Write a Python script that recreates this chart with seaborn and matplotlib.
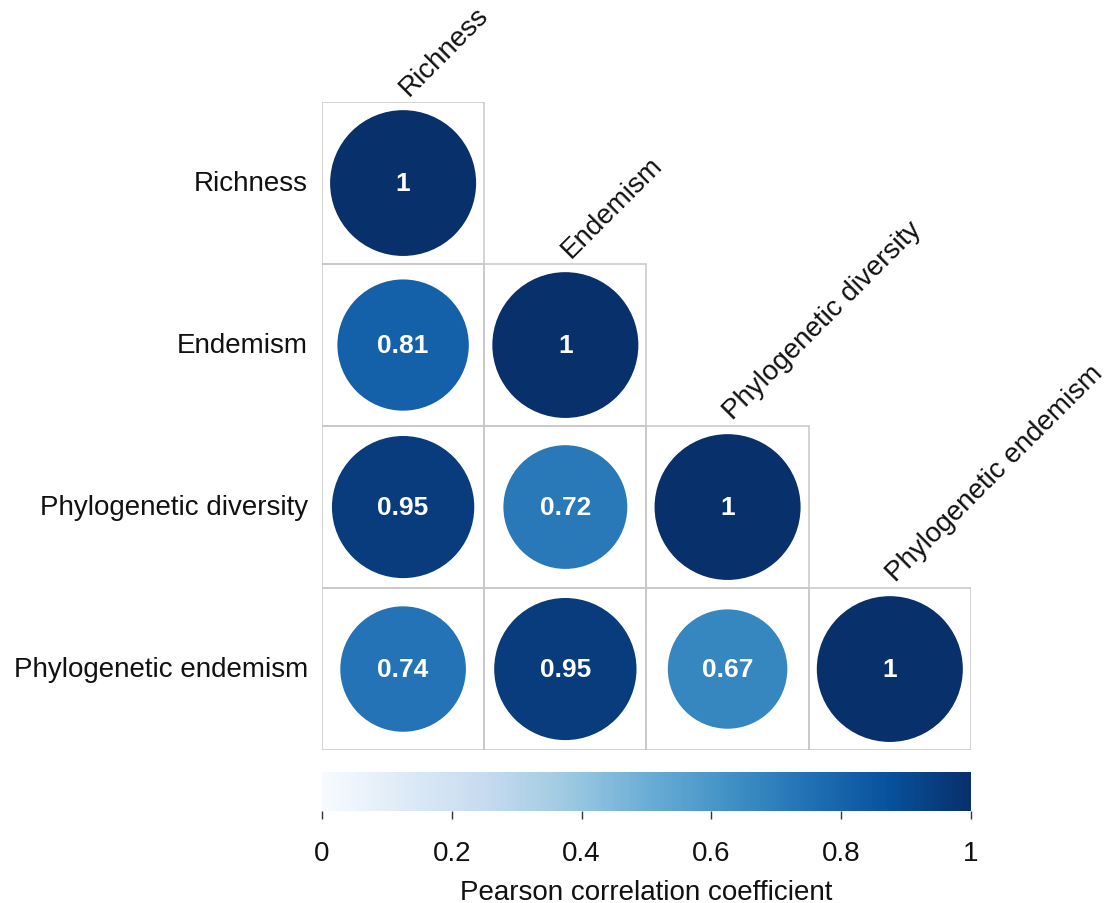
import numpy as np
import matplotlib
matplotlib.use("Agg")
import matplotlib.pyplot as plt
from matplotlib.colors import ListedColormap, Normalize
from matplotlib.cm import ScalarMappable
from matplotlib.patches import Circle, Rectangle
import seaborn as sns

# Variables and their pairwise Pearson correlations (lower triangle incl. diagonal)
variables = ["Richness", "Endemism", "Phylogenetic diversity", "Phylogenetic endemism"]
row_richness = [1.00, np.nan, np.nan, np.nan]
row_endemism = [0.81, 1.00, np.nan, np.nan]
row_pd = [0.95, 0.72, 1.00, np.nan]
row_pe = [0.74, 0.95, 0.67, 1.00]
cbar_ticks = [0, 0.2, 0.4, 0.6, 0.8, 1]
cbar_ticklabels = ["0", "0.2", "0.4", "0.6", "0.8", "1"]
cbar_title = "Pearson correlation coefficient"

corr = np.array([row_richness, row_endemism, row_pd, row_pe])
n = len(variables)
mask = np.isnan(corr)
labels = np.array([["" if np.isnan(v) else f"{v:g}" for v in row] for row in corr])

sns.set_style("white")
plt.rcParams["font.family"] = ["Liberation Sans", "DejaVu Sans"]

cmap = plt.get_cmap("Blues")
norm = Normalize(vmin=0, vmax=1)

fig = plt.figure(figsize=(11.08, 9.04), dpi=100)
ax = fig.add_axes([0.2906, 0.1692, 0.5857, 0.7168])

# Blank white heatmap carries the row labels and the value annotations
sns.heatmap(
    np.where(mask, np.nan, 0.0), mask=mask, ax=ax,
    cmap=ListedColormap(["white"]), vmin=0, vmax=1, cbar=False,
    linewidths=0,
    annot=labels, fmt="",
    annot_kws={"color": "white", "fontsize": 19, "fontweight": "bold"},
    xticklabels=False, yticklabels=variables, square=False,
)
ax.set_xlim(0, n)
ax.set_ylim(n, 0)

# Cell borders and circles (area proportional to |r|, coloured by r)
for i in range(n):
    for j in range(i + 1):
        r = corr[i, j]
        ax.add_patch(Rectangle((j, i), 1, 1, facecolor="none",
                               edgecolor="#c8c8c8", linewidth=1.1, zorder=1.5))
        ax.add_patch(Circle((j + 0.5, i + 0.5), 0.45 * np.sqrt(abs(r)),
                            facecolor=cmap(norm(r)), edgecolor="none", zorder=2))
for t in ax.texts:
    t.set_zorder(4)

ax.tick_params(axis="y", length=0, pad=10, labelsize=20, labelcolor="#111111",
               labelrotation=0)
for spine in ax.spines.values():
    spine.set_visible(False)

# Column labels placed diagonally above each diagonal cell
for j, name in enumerate(variables):
    ax.text(j + 0.56, j - 0.01, name, rotation=45, rotation_mode="anchor",
            ha="left", va="bottom", fontsize=20, color="#111111")

# Horizontal colour bar
cax = fig.add_axes([0.2906, 0.1018, 0.5857, 0.0431])
cb = fig.colorbar(ScalarMappable(norm=norm, cmap=cmap), cax=cax,
                  orientation="horizontal", ticks=cbar_ticks)
cb.outline.set_visible(False)
cb.ax.set_xticklabels(cbar_ticklabels)
cb.ax.tick_params(length=6, width=1, color="#333333", pad=15, labelsize=20,
                  labelcolor="#111111")
cb.set_label(cbar_title, fontsize=20, color="#111111", labelpad=9)

fig.savefig("out.png", dpi=100)
